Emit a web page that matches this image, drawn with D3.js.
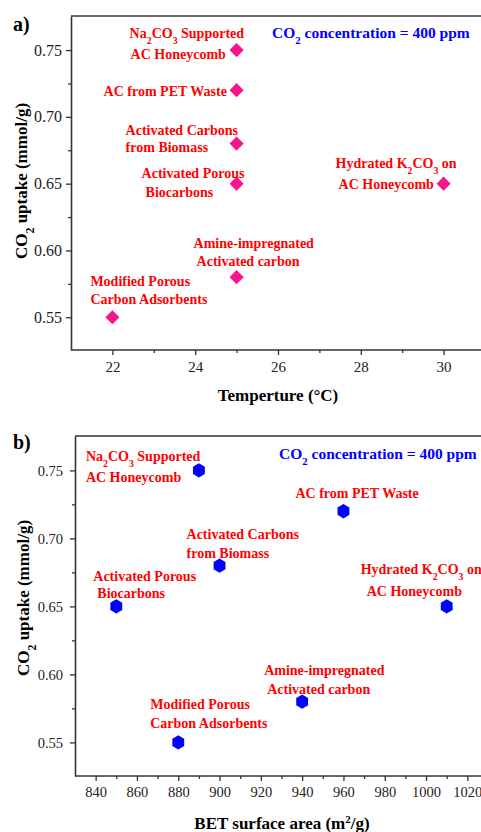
<!DOCTYPE html>
<html><head><meta charset="utf-8">
<script src="https://cdn.jsdelivr.net/npm/d3@7/dist/d3.min.js"></script>
<style>
html,body{margin:0;padding:0;background:#fff;}
svg text{font-family:"Liberation Serif","Times New Roman",Times,serif;}
</style></head>
<body><svg id="c" width="481" height="832"></svg>
<script>
// ---------- data ----------
const names = ["Na_2CO_3 Supported|AC Honeycomb","AC from PET Waste","Activated Carbons|from Biomass","Activated Porous|Biocarbons","Hydrated K_2CO_3 on|AC Honeycomb","Amine-impregnated|Activated carbon","Modified Porous|Carbon Adsorbents"];
const uptake = [0.75,0.72,0.68,0.65,0.65,0.58,0.55];
const temperature = [25,25,25,25,30,25,22];
const betArea = [890,960,900,850,1010,940,880];
const yTicks = [0.55,0.60,0.65,0.70,0.75];
const yMinor = [0.575,0.625,0.675,0.725];
const tTicks = [22,24,26,28,30];
const tMinor = [23,25,27,29];
const bTicks = [840,860,880,900,920,940,960,980,1000,1020];
const bMinor = [850,870,890,910,930,950,970,990,1010];

// ---------- layout (label offsets relative to marker, px) ----------
const offA = [[[-107,-17],[-106,4]],[[-133,1]],[[-111,-13],[-111,4]],[[-95,-11],[-91,8]],[[-108,-21],[-105,0]],[[-43,-34],[-40,-16]],[[-22,-36],[-22,-18]]];
const offB = [[[-113,-14],[-113,7]],[[-48,-18]],[[-33,-32],[-33,-13]],[[-23,-30],[-19,-13]],[[-86,-37],[-80,-15]],[[-38,-32],[-35,-13]],[[-28,-38],[-28,-19]]];

const FONT = "'Liberation Serif','Times New Roman',Times,serif";
const svg = d3.select("#c");
const AX = "#333";

function richText(sel, str){
  const parts = str.split(/(_\d)/);
  parts.forEach(p=>{
    if(!p) return;
    if(p[0]==="_"){ sel.append("tspan").attr("baseline-shift","sub").attr("font-size","0.7em").text(p.slice(1)); }
    else sel.append("tspan").text(p);
  });
}

function panel(cfg){
  const g = svg.append("g").attr("font-family",FONT);
  const x = d3.scaleLinear().domain(cfg.xDom).range([cfg.left, cfg.right]);
  const y = d3.scaleLinear().domain(cfg.yDom).range([cfg.bottom, cfg.top]);

  g.append("line").attr("x1",cfg.left).attr("x2",481).attr("y1",cfg.top).attr("y2",cfg.top)
    .attr("stroke",AX).attr("stroke-width",1.6);

  const xa = g.append("g").attr("transform",`translate(0,${cfg.bottom})`)
    .call(d3.axisBottom(x).tickValues(cfg.xTicks).tickSize(5).tickSizeOuter(0).tickPadding(6).tickFormat(d3.format("d")));
  g.append("g").attr("transform",`translate(0,${cfg.bottom})`)
    .call(d3.axisBottom(x).tickValues(cfg.xMinor).tickSize(3).tickSizeOuter(0).tickFormat(""))
    .select(".domain").remove();
  xa.select(".domain").attr("d",`M${cfg.left},0H481`);
  const ya = g.append("g").attr("transform",`translate(${cfg.left},0)`)
    .call(d3.axisLeft(y).tickValues(yTicks).tickSize(5).tickSizeOuter(0).tickPadding(cfg.yPad).tickFormat(d3.format(".2f")));
  g.append("g").attr("transform",`translate(${cfg.left},0)`)
    .call(d3.axisLeft(y).tickValues(yMinor).tickSize(3).tickSizeOuter(0).tickFormat(""))
    .select(".domain").remove();
  g.selectAll("g").attr("font-family",FONT);
  g.selectAll(".domain").attr("stroke",AX).attr("stroke-width",1.6);
  g.selectAll(".tick line").attr("stroke",AX).attr("stroke-width",1.3);
  xa.selectAll("text").attr("font-family",FONT).attr("font-size",cfg.xFs).attr("fill","#222");
  ya.selectAll("text").attr("font-family",FONT).attr("font-size",cfg.yFs).attr("fill","#222");

  const xt = g.append("text").attr("x",cfg.xTitleX).attr("y",cfg.xTitleY).attr("text-anchor","middle")
    .attr("font-weight","bold").attr("font-size",17).attr("fill","#000");
  cfg.xTitle.forEach(p=>{ const t=xt.append("tspan").text(p.t); if(p.sup){t.attr("baseline-shift","super").attr("font-size","0.65em");} });
  const yt = g.append("text").attr("transform",`translate(${cfg.yTitleX},${cfg.yTitleY}) rotate(-90)`)
    .attr("text-anchor","middle").attr("font-weight","bold").attr("font-size",17).attr("fill","#000");
  richText(yt,"CO_2 uptake (mmol/g)");

  g.append("text").attr("x",cfg.plX).attr("y",cfg.plY).attr("font-weight","bold").attr("font-size",20).text(cfg.pl);

  const note = g.append("text").attr("x",cfg.noteX).attr("y",cfg.noteY).attr("dy","0.35em")
    .attr("font-weight","bold").attr("font-size",15.5).attr("fill","#0000FF");
  richText(note,"CO_2 concentration = 400 ppm");

  const xs = cfg.xVals;
  g.selectAll("path.m").data(uptake).join("path").attr("class","m")
    .attr("d",cfg.symbol)
    .attr("transform",(d,i)=>`translate(${x(xs[i])},${y(d)})${cfg.rot}`)
    .attr("fill",cfg.color);

  names.forEach((n,i)=>{
    const lines = n.split("|");
    lines.forEach((ln,j)=>{
      const o = cfg.off[i][j];
      const t = g.append("text").attr("x",x(xs[i])+o[0]).attr("y",y(uptake[i])+o[1]).attr("dy","0.35em")
        .attr("font-weight","bold").attr("font-size",14).attr("fill","#FF0000");
      richText(t,ln);
    });
  });
}

const diamond = d3.symbol(d3.symbolSquare, 100)();
const hexR = 7.2;
const hexPts = d3.range(6).map(k=>{const a=Math.PI/3*k - Math.PI/2; return [hexR*Math.cos(a)*0.95, hexR*Math.sin(a)];});
const hexagon = d3.line()(hexPts)+"Z";

panel({xDom:[21,31], yDom:[0.5255,0.7755], left:71, right:485, top:16, bottom:350,
  xTicks:tTicks, xMinor:tMinor, xVals:temperature, yPad:4, xFs:15, yFs:16,
  xTitle:[{t:"Temperture (°C)"}], xTitleX:278, xTitleY:401, yTitleX:27, yTitleY:181,
  pl:"a)", plX:13, plY:31, noteX:272, noteY:33,
  symbol:diamond, rot:" rotate(45)", color:"#F7148C", off:offA});

panel({xDom:[830,1030], yDom:[0.5253,0.7753], left:75, right:488, top:436, bottom:776,
  xTicks:bTicks, xMinor:bMinor, xVals:betArea, yPad:7, xFs:14.5, yFs:14.5,
  xTitle:[{t:"BET surface area (m"},{t:"2",sup:true},{t:"/g)"}], xTitleX:282, xTitleY:829, yTitleX:29, yTitleY:598,
  pl:"b)", plX:13, plY:449, noteX:279, noteY:454,
  symbol:hexagon, rot:"", color:"#0000FF", off:offB});
</script>
</body></html>
